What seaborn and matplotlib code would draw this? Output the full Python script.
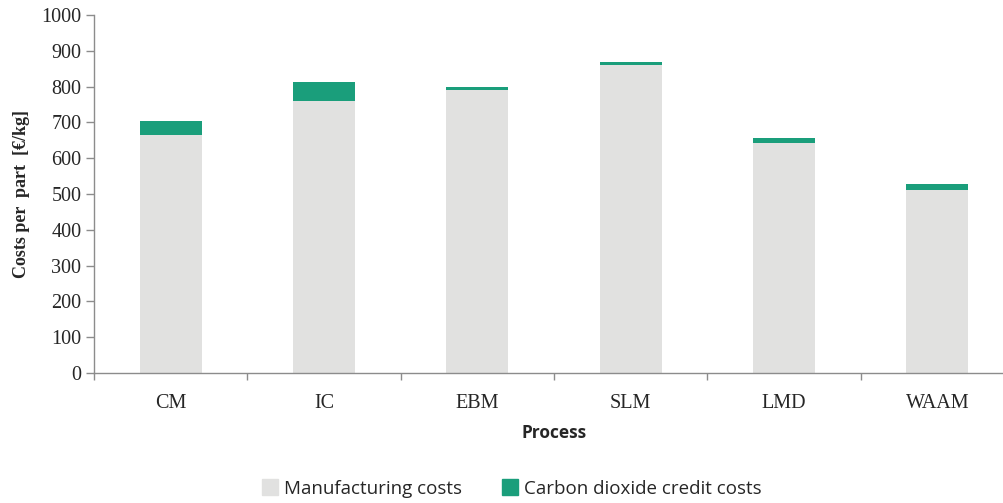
import matplotlib
matplotlib.use("Agg")
import matplotlib.pyplot as plt
from matplotlib.lines import Line2D
import seaborn as sns
import pandas as pd

# Cost breakdown per process
processes = ["CM", "IC", "EBM", "SLM", "LMD", "WAAM"]
manufacturing_costs = [666, 760, 790, 859, 643, 510]
co2_credit_costs = [39, 53, 9, 9, 14, 17]
y_ticks = list(range(0, 1001, 100))

total_costs = [m + c for m, c in zip(manufacturing_costs, co2_credit_costs)]
df = pd.DataFrame({
    "Process": processes,
    "Manufacturing": manufacturing_costs,
    "Total": total_costs,
})

GREY = "#e1e1e0"
GREEN = "#1a9e7b"
AXIS = "#8c8c8c"
SERIF = ["Liberation Serif", "DejaVu Serif"]
SANS = ["Open Sans", "DejaVu Sans"]

sns.set_theme(style="white")
plt.rcParams["font.family"] = SERIF

fig = plt.figure(figsize=(10.04, 5.03), dpi=100)
ax = fig.add_axes([94 / 1004, 130 / 503, 920 / 1004, 358 / 503])

# Stacked look: total in green, manufacturing part drawn over it in grey
sns.barplot(data=df, x="Process", y="Total", color=GREEN, width=0.405,
            saturation=1, ax=ax, edgecolor="none")
sns.barplot(data=df, x="Process", y="Manufacturing", color=GREY, width=0.405,
            saturation=1, ax=ax, edgecolor="none")

ax.set_xlim(-0.5, len(processes) - 0.5)
ax.set_ylim(0, 1000)
ax.set_yticks(y_ticks)
ax.set_yticklabels([str(v) for v in y_ticks], family=SERIF, fontsize=14.5)

# Category separators as major ticks, names on minor ticks
ax.set_xticks([i - 0.5 for i in range(len(processes) + 1)])
ax.set_xticklabels([])
ax.set_xticks(range(len(processes)), minor=True)
ax.set_xticklabels(processes, minor=True, fontsize=14.5, family=SERIF)
ax.tick_params(axis="x", which="major", direction="out", length=5,
               color=AXIS, width=1, bottom=True)
ax.tick_params(axis="x", which="minor", length=0, pad=15)
ax.tick_params(axis="y", direction="out", length=6, color=AXIS, width=1,
               left=True, pad=3)

for side in ["top", "right"]:
    ax.spines[side].set_visible(False)
for side in ["left", "bottom"]:
    ax.spines[side].set_color(AXIS)
    ax.spines[side].set_linewidth(1)

ax.set_ylabel("Costs per  part  [€/kg]", fontsize=13, fontweight="bold",
              family=SERIF, labelpad=8)
ax.set_xlabel("Process", fontsize=12.5, fontweight="bold",
              family=SANS, labelpad=8)

handles = [
    Line2D([], [], marker="s", linestyle="none", markersize=11,
           markerfacecolor=GREY, markeredgecolor=GREY),
    Line2D([], [], marker="s", linestyle="none", markersize=11,
           markerfacecolor=GREEN, markeredgecolor=GREEN),
]
fig.legend(handles, ["Manufacturing costs", "Carbon dioxide credit costs"],
           loc="center", bbox_to_anchor=(512 / 1004, 1 - 489 / 503), ncol=2,
           frameon=False, handlelength=0.8, handletextpad=0.35,
           columnspacing=2.2,
           prop={"family": SANS, "size": 13.5})

fig.savefig("out.png", dpi=100)
